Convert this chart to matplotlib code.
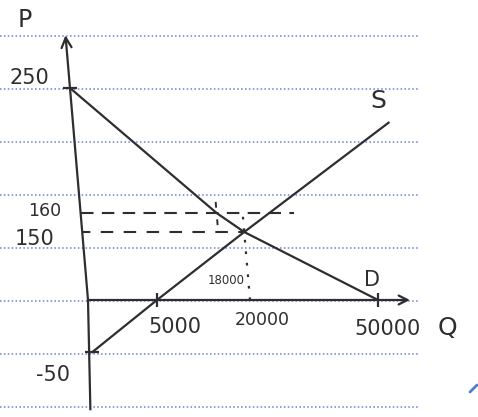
import numpy as np
import matplotlib
matplotlib.use('Agg')
import matplotlib.pyplot as plt
from matplotlib.transforms import Affine2D

# supply / demand sketch values
demand_q = [0, 18000, 20000, 50000]
demand_p = [250, 160, 150, 0]
supply_q = [0, 5000, 20000, 56000]
supply_p = [-50, 0, 150, 225]
eq_q, eq_p = 20000, 150
q_160, p_160 = 18000, 160
p_axis_q = [-500, 0, 0]
p_axis_p = [-105, 0, 288]
q_axis = [0, 57500]
p_ticks = [250, 160, 150, -50]
p_labels = ["250", "160", "150", "-50"]
q_ticks = [5000, 18000, 20000, 50000]
q_labels = ["5000", "18000", "20000", "50000"]

# the hand drawing is not to scale: where each value sits on the page (px)
q_knots, q_px = [0, 5000, 18000, 20000, 50000], [88, 157, 224, 250, 378]
p_knots, p_px = [-50, 0, 150, 160, 250], [352, 300, 232, 213, 88]
W, H = 478, 417
ink_c = "#2e2e2e"


def interp_ext(src, dst):
    src = np.asarray(src, float)
    dst = np.asarray(dst, float)

    def f(v):
        v = np.asarray(v, float)
        out = np.interp(v, src, dst)
        lo = dst[0] + (v - src[0]) * (dst[1] - dst[0]) / (src[1] - src[0])
        hi = dst[-1] + (v - src[-1]) * (dst[-1] - dst[-2]) / (src[-1] - src[-2])
        return np.where(v < src[0], lo, np.where(v > src[-1], hi, out))
    return f


xf, xi = interp_ext(q_knots, q_px), interp_ext(q_px, q_knots)
neg_py = [-p for p in p_px]
yf, yi = interp_ext(p_knots, neg_py), interp_ext(neg_py, p_knots)

fig = plt.figure(figsize=(W / 100, H / 100), dpi=100)
ax = fig.add_axes([0, 0, 1, 1])
ax.set_xscale('function', functions=(xf, xi))
ax.set_yscale('function', functions=(yf, yi))
ax.set_xlim(float(xi(0)), float(xi(W)))
ax.set_ylim(float(yi(-H)), float(yi(0)))
ax.axis('off')

# the whole sketch leans to the left a little
k = 0.085
ink = ax.transData + Affine2D(np.array([[1, -k, k * (H - 300)], [0, 1, 0], [0, 0, 1]]))

# ruled paper
for y in [36, 89, 142, 195, 248, 301, 354, 407]:
    ax.plot([0, 418 / W], [1 - y / H] * 2, transform=ax.transAxes,
            color="#8e9be0", lw=1.4, ls=(0, (0.8, 1.2)), zorder=0)
ax.plot([470 / W, 477 / W], [1 - 392 / H, 1 - 385 / H], transform=ax.transAxes,
        color="#4d7fd6", lw=2, solid_capstyle='round')

ax.plot(demand_q, demand_p, color=ink_c, lw=1.6, transform=ink)
ax.plot(supply_q, supply_p, color=ink_c, lw=1.6, transform=ink)
ax.plot([0, 32000], [p_160, p_160], color=ink_c, lw=1.5, ls=(0, (6, 4)), transform=ink)
ax.plot([0, eq_q], [eq_p, eq_p], color=ink_c, lw=1.5, ls=(2, (6, 5)), transform=ink)
ax.plot([eq_q, eq_q], [eq_p + 8, 0], color=ink_c, lw=1.6, ls=(0, (1.2, 4)), transform=ink)
ax.plot([q_160, q_160], [p_160 + 8, 140], color=ink_c, lw=1.4, ls=(0, (3, 6)), transform=ink)
ax.plot([0, 0], [250, -50], ls='none', marker='_', ms=10, mew=1.6, color=ink_c, transform=ink)
ax.plot([5000, 50000], [0, 0], ls='none', marker='|', ms=10, mew=1.6, color=ink_c, transform=ink)

# axes of the sketch
ax.plot(p_axis_q[:2], p_axis_p[:2], color=ink_c, lw=1.6, transform=ink)
ax.annotate('', xy=(p_axis_q[2], p_axis_p[2]), xytext=(p_axis_q[1], p_axis_p[1]),
            xycoords=ink, textcoords=ink,
            arrowprops=dict(arrowstyle='->', lw=1.6, color=ink_c, mutation_scale=18,
                            shrinkA=0, shrinkB=0))
ax.annotate('', xy=(q_axis[1], 0), xytext=(q_axis[0], 0), xycoords=ink, textcoords=ink,
            arrowprops=dict(arrowstyle='->', lw=1.6, color=ink_c, mutation_scale=16,
                            shrinkA=0, shrinkB=0))

p_off = [(-41, 10, 15), (-36, 2, 12.5), (-48, -7, 15), (-39, -23, 15)]
for p, lab, (dx, dy, fs) in zip(p_ticks, p_labels, p_off):
    ax.annotate(lab, xy=(0, p), xycoords=ink, xytext=(dx, dy), textcoords='offset pixels',
                ha='center', va='center', fontsize=fs, color=ink_c)
q_off = [(18, -27, 15), (2, 20, 8.5), (12, -20, 12.5), (10, -29, 15)]
for q, lab, (dx, dy, fs) in zip(q_ticks, q_labels, q_off):
    ax.annotate(lab, xy=(q, 0), xycoords=ink, xytext=(dx, dy), textcoords='offset pixels',
                ha='center', va='center', fontsize=fs, color=ink_c)

ax.annotate("D", xy=(demand_q[-1], demand_p[-1]), xycoords=ink, xytext=(-6, 20),
            textcoords='offset pixels', ha='center', va='center', fontsize=15, color=ink_c)
ax.annotate("S", xy=(supply_q[-1], supply_p[-1]), xycoords=ink, xytext=(-10, 22),
            textcoords='offset pixels', ha='center', va='center', fontsize=18, color=ink_c)
ax.annotate("P", xy=(0, p_axis_p[2]), xycoords=ink, xytext=(-41, 15),
            textcoords='offset pixels', ha='center', va='center', fontsize=17, color=ink_c)
ax.annotate("Q", xy=(q_axis[1], 0), xycoords=ink, xytext=(37, -28),
            textcoords='offset pixels', ha='center', va='center', fontsize=18, color=ink_c)

fig.savefig("out.png", dpi=100, facecolor='white')
